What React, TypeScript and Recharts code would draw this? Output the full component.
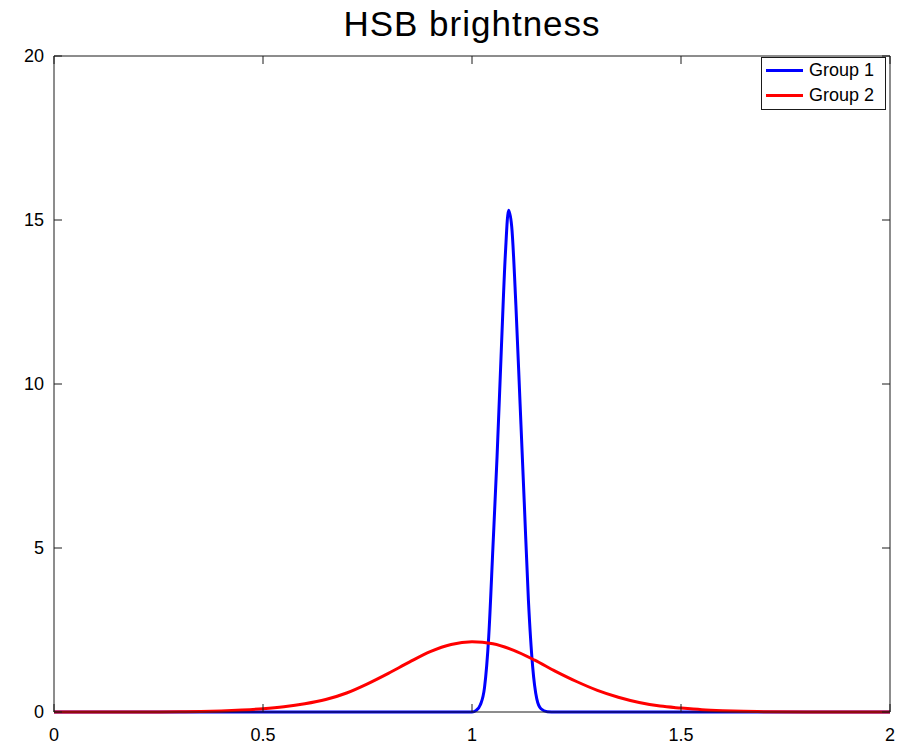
import { Legend, Line, LineChart, XAxis, YAxis } from "recharts";

const xTicks = [0, 0.5, 1, 1.5, 2];
const yTicks = [0, 5, 10, 15, 20];

const group1X = [0, 0.5, 0.98, 1.0, 1.01, 1.02, 1.03, 1.04, 1.05, 1.06, 1.07, 1.08, 1.0875, 1.095, 1.105, 1.115, 1.125, 1.135, 1.145, 1.155, 1.165, 1.18, 1.2, 1.5, 2];
const group1Y = [0, 0, 0, 0, 0.05, 0.22, 0.75, 2.3, 5.0, 7.8, 11.0, 14.0, 15.3, 14.8, 12.4, 9.4, 6.4, 3.4, 1.4, 0.4, 0.1, 0.01, 0, 0, 0];

const group2X = [0, 0.1, 0.2, 0.3, 0.35, 0.4, 0.45, 0.5, 0.55, 0.6, 0.65, 0.7, 0.75, 0.8, 0.85, 0.9, 0.95, 1.0, 1.05, 1.1, 1.15, 1.2, 1.25, 1.3, 1.35, 1.4, 1.45, 1.5, 1.55, 1.6, 1.65, 1.7, 1.8, 1.9, 2];
const group2Y = [0, 0, 0.001, 0.004, 0.012, 0.03, 0.06, 0.1, 0.16, 0.25, 0.38, 0.58, 0.86, 1.18, 1.52, 1.84, 2.06, 2.14, 2.08, 1.88, 1.58, 1.24, 0.93, 0.66, 0.45, 0.29, 0.18, 0.12, 0.07, 0.04, 0.02, 0.01, 0.002, 0, 0];

const group1Data = group1X.map((x, i) => ({ x, y: group1Y[i] }));
const group2Data = group2X.map((x, i) => ({ x, y: group2Y[i] }));

const font = '"Liberation Sans", Arial, sans-serif';
const axisColor = "#1a1a1a";
const TICK_LEN = 8;
const X_LABEL_GAP = 16;
const Y_LABEL_GAP = 10;

// ticks point into the plot, like the original; labels sit outside
const BottomTick = ({ x, y, payload }: any) => (
  <g>
    <line x1={x} x2={x} y1={y - X_LABEL_GAP} y2={y - X_LABEL_GAP - TICK_LEN} stroke={axisColor} />
    <text x={x} y={y} dy="0.71em" textAnchor="middle" fontSize={18} fontFamily={font} fill="#000">
      {payload.value}
    </text>
  </g>
);

const LeftTick = ({ x, y, payload }: any) => (
  <g>
    <line x1={x + Y_LABEL_GAP} x2={x + Y_LABEL_GAP + TICK_LEN} y1={y} y2={y} stroke={axisColor} />
    <text x={x} y={y} dy="0.355em" textAnchor="end" fontSize={18} fontFamily={font} fill="#000">
      {payload.value}
    </text>
  </g>
);

const TopTick = ({ x, y }: any) => <line x1={x} x2={x} y1={y} y2={y + TICK_LEN} stroke={axisColor} />;
const RightTick = ({ x, y }: any) => <line x1={x} x2={x - TICK_LEN} y1={y} y2={y} stroke={axisColor} />;

const LegendBox = ({ payload }: any) => (
  <div
    style={{
      width: 123,
      height: 51,
      border: "1px solid #1a1a1a",
      background: "#fff",
      fontFamily: font,
      fontSize: 18,
      color: "#000",
      boxSizing: "content-box",
    }}
  >
    {(payload ?? []).map((item: any) => (
      <div key={item.value} style={{ display: "flex", alignItems: "center", height: 25, paddingLeft: 4 }}>
        <span style={{ display: "inline-block", width: 37, height: 3, background: item.color, marginRight: 6 }} />
        <span>{item.value}</span>
      </div>
    ))}
  </div>
);

export default function App() {
  return (
    <div style={{ position: "absolute", left: 0, top: 0, width: 897, height: 746, background: "#fff" }}>
      <LineChart width={897} height={746} margin={{ top: 55, right: 6, bottom: 33, left: 53 }}>
        <XAxis
          dataKey="x"
          type="number"
          domain={[0, 2]}
          ticks={xTicks}
          interval={0}
          height={1}
          tickSize={0}
          tickMargin={X_LABEL_GAP}
          tickLine={false}
          stroke={axisColor}
          tick={<BottomTick />}
        />
        {/* top/right axes share the same domains so both series land on identical scales */}
        <XAxis
          xAxisId="top"
          orientation="top"
          dataKey="x"
          type="number"
          domain={[0, 2]}
          ticks={xTicks}
          interval={0}
          height={1}
          tickSize={0}
          tickMargin={0}
          tickLine={false}
          stroke={axisColor}
          tick={<TopTick />}
        />
        <YAxis
          type="number"
          domain={[0, 20]}
          ticks={yTicks}
          interval={0}
          width={1}
          tickSize={0}
          tickMargin={Y_LABEL_GAP}
          tickLine={false}
          stroke={axisColor}
          tick={<LeftTick />}
        />
        <YAxis
          yAxisId="right"
          orientation="right"
          type="number"
          domain={[0, 20]}
          ticks={yTicks}
          interval={0}
          width={1}
          tickSize={0}
          tickMargin={0}
          tickLine={false}
          stroke={axisColor}
          tick={<RightTick />}
        />
        <Legend
          layout="horizontal"
          verticalAlign="middle"
          align="center"
          content={<LegendBox />}
          wrapperStyle={{ position: "absolute", top: 57, left: 761, width: 125 }}
        />
        <Line
          data={group1Data}
          dataKey="y"
          name="Group 1"
          type="monotone"
          stroke="#0000ff"
          strokeWidth={3}
          dot={false}
          activeDot={false}
          isAnimationActive={false}
        />
        <Line
          data={group2Data}
          dataKey="y"
          name="Group 2"
          xAxisId="top"
          yAxisId="right"
          type="monotone"
          stroke="#ff0000"
          strokeWidth={3}
          dot={false}
          activeDot={false}
          isAnimationActive={false}
        />
      </LineChart>
      <svg width={897} height={50} style={{ position: "absolute", left: 0, top: 0, pointerEvents: "none" }}>
        <text x={472} y={36} textAnchor="middle" fontSize={35} letterSpacing={1} fontFamily={font} fill="#000">
          HSB brightness
        </text>
      </svg>
    </div>
  );
}
